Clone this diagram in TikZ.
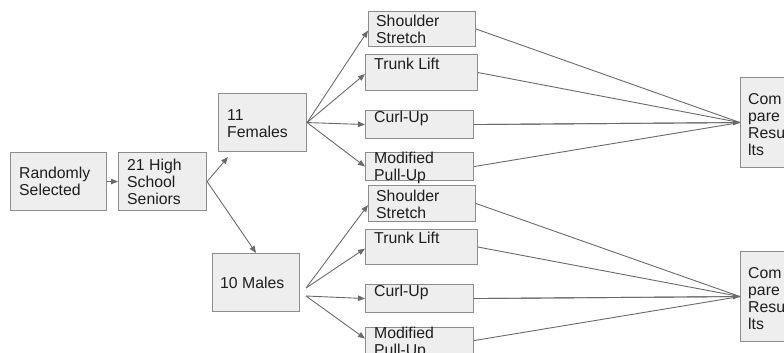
\documentclass[tikz,border=0pt]{standalone}
\usepackage{fontspec}
\setmainfont{Liberation Sans}
\usetikzlibrary{arrows.meta}
\definecolor{boxfill}{HTML}{EEEEEE}
\definecolor{boxline}{HTML}{8C8C8C}
\definecolor{arrowc}{HTML}{6A6A6A}
\definecolor{txtc}{HTML}{1E1E1E}
\begin{document}
\begin{tikzpicture}[x=1pt,y=-1pt,
  box/.style={draw=boxline,fill=boxfill,line width=1.1pt,inner sep=0pt,anchor=north west},
  txt/.style={anchor=north west,inner sep=0pt,align=left,text=txtc,font=\fontsize{15.8}{17}\selectfont},
  arr/.style={draw=arrowc,line width=0.9pt,-{Triangle[length=7pt,width=5.5pt]}},
  ln/.style={draw=arrowc,line width=0.9pt}]
\useasboundingbox (0,0) rectangle (784,353);
\clip (0,0) rectangle (784,353);
% boxes: node (name) at top-left with size
\newcommand{\bx}[5]{\node[box,minimum width=#4pt,minimum height=#5pt] (#1) at (#2,#3) {};}
\bx{rs}{10}{152}{96}{58}
\bx{sen}{118}{152}{88}{58}
\bx{fe}{218}{93}{88}{58}
\bx{ma}{212}{253}{87}{58}
\bx{ss1}{368}{11}{107}{35}
\bx{tl1}{365}{54}{112}{36}
\bx{cu1}{365}{110}{108}{28}
\bx{pu1}{365}{152}{108}{28}
\bx{ss2}{368}{185}{107}{36}
\bx{tl2}{365}{229}{112}{35}
\bx{cu2}{365}{284}{108}{28}
\bx{pu2}{365}{327}{108}{30}
\bx{cmp1}{740}{77}{70}{90}
\bx{cmp2}{740}{251}{70}{90}
% texts
\node[txt] (t-rs) at (19,166.5) {Randomly\\Selected};
\node[txt] (t-sen) at (127,159) {21 High\\School\\Seniors};
\node[txt] (t-fe) at (227,109) {11\\Females};
\node[txt] (t-ma) at (220,277) {10 Males};
\node[txt] (t-ss1) at (376,15) {Shoulder\\Stretch};
\node[txt] (t-tl1) at (374,58) {Trunk Lift};
\node[txt] (t-cu1) at (374,111) {Curl-Up};
\node[txt] (t-pu1) at (374,152) {Modified\\Pull-Up};
\node[txt] (t-ss2) at (376,190) {Shoulder\\Stretch};
\node[txt] (t-tl2) at (374,232) {Trunk Lift};
\node[txt] (t-cu2) at (374,285) {Curl-Up};
\node[txt] (t-pu2) at (374,327) {Modified\\Pull-Up};
\node[txt] (t-cmp1) at (748,93) {Com\\pare\\Resu\\lts};
\node[txt] (t-cmp2) at (748,267) {Com\\pare\\Resu\\lts};
% connector coordinates
\coordinate (fe-in) at (228,157);
\coordinate (ma-o1) at (306,288);
\coordinate (ma-o2) at (306,296);
% connectors
\draw[arr] (rs.east) -- (sen.west);
\draw[arr] (sen.east) -- (fe-in);
\draw[arr] (sen.east) -- (ma.north);
\draw[arr] (fe.east) -- ([yshift=-1.5pt]ss1.west);
\draw[arr] (fe.east) -- ([yshift=-1.5pt]tl1.west);
\draw[arr] (fe.east) -- (cu1.west);
\draw[arr] (fe.east) -- (pu1.west);
\draw[arr] (ma-o1) -- ([yshift=-1.5pt]ss2.west);
\draw[arr] (ma-o1) -- ([yshift=-1.5pt]tl2.west);
\draw[arr] (ma-o2) -- (cu2.west);
\draw[arr] (ma-o2) -- ([yshift=4pt]pu2.west);
\foreach \s in {ss1,tl1,cu1,pu1} \draw[ln] (\s.east) -- (cmp1.west);
\draw[arr] (cu1.east) -- (cmp1.west);
\foreach \s in {ss2,tl2,cu2} \draw[ln] (\s.east) -- (cmp2.west);
\draw[ln] ([yshift=2pt]pu2.east) -- (cmp2.west);
\draw[arr] (cu2.east) -- (cmp2.west);
\end{tikzpicture}
\end{document}
